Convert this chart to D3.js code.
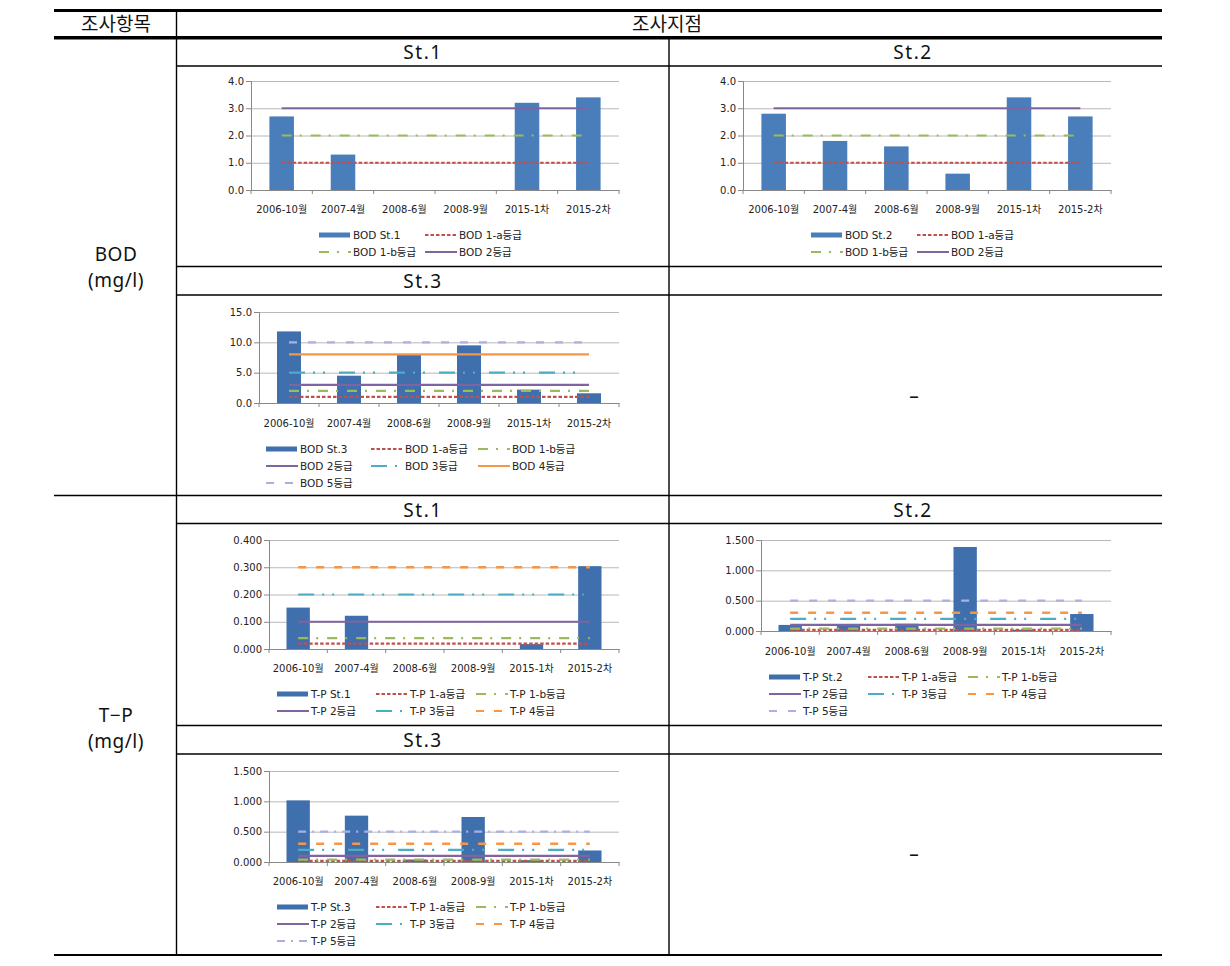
<!DOCTYPE html>
<html><head><meta charset="utf-8">
<script src="https://cdn.jsdelivr.net/npm/d3@7"></script>
<style>body{margin:0;background:#fff}svg{display:block}</style>
</head><body>
<svg id="c" width="1230" height="966"></svg>
<script>
// ---------- DATA ----------
const categories = ["2006-10월","2007-4월","2008-6월","2008-9월","2015-1차","2015-2차"];
const bodSt1 = [2.7, 1.3, 0, 0, 3.2, 3.4];
const bodSt2 = [2.8, 1.8, 1.6, 0.6, 3.4, 2.7];
const bodSt3 = [11.8, 4.5, 8.0, 9.5, 2.2, 1.6];
const tpSt1 = [0.152, 0.122, 0, 0, 0.018, 0.304];
const tpSt2 = [0.10, 0.11, 0.12, 1.385, 0.02, 0.28];
const tpSt3 = [1.016, 0.764, 0.04, 0.742, 0.03, 0.19];
const gradeNames = ["1-a등급","1-b등급","2등급","3등급","4등급","5등급"];
const bodGradeValues = [1, 2, 3, 5, 8, 10];
const tpGradeValues = [0.02, 0.04, 0.1, 0.2, 0.3, 0.5];
const bodTicksSmall = [0, 1, 2, 3, 4];
const bodTicksLarge = [0, 5, 10, 15];
const tpTicksSmall = [0, 0.1, 0.2, 0.3, 0.4];
const tpTicksLarge = [0, 0.5, 1.0, 1.5];

// ---------- STYLES ----------
const BIG = "'Noto Sans','Noto Sans CJK KR',sans-serif";
const SMALL = "'DejaVu Sans','Noto Sans CJK KR',sans-serif";
const baseStyles = [
  {color:"#C0504D", dash:"3.5,2", w:2.2},
  {color:"#9BBB59", dash:"10,8,2,9", w:2.2},
  {color:"#8064A2", dash:null, w:2.2},
  {color:"#4BACC6", dash:"16,8,2,8,2,14", w:2.2},
  {color:"#F79646", dash:null, w:2.2},
  {color:"#AAB0E6", dash:"8,11", w:2.2}
];
function gradeStyle(i, variant){
  const s = Object.assign({}, baseStyles[i]);
  if((variant==="tp" || variant==="tp3") && i===4){ s.dash="8,10"; s.w=2.5; }
  if(variant==="tp3" && i===5){ s.dash="8,6,2,6"; }
  return s;
}

const svg = d3.select("#c");

// ---------- TABLE ----------
const T = svg.append("g");
const hl = [[54,1162,10.5,3],[54,1162,37.8,3.5],[176,1162,66,1.4],[176,1162,266.5,1.4],[176,1162,295,1.4],
  [54,1162,495.5,1.4],[176,1162,523.5,1.4],[176,1162,725.5,1.4],[176,1162,754,1.4],[54,1162,955,2]];
hl.forEach(d=>T.append("line").attr("x1",d[0]).attr("x2",d[1]).attr("y1",d[2]).attr("y2",d[2]).attr("stroke","#000").attr("stroke-width",d[3]));
[[176.5,10,955],[669,39,955]].forEach(d=>T.append("line").attr("x1",d[0]).attr("x2",d[0]).attr("y1",d[1]).attr("y2",d[2]).attr("stroke","#000").attr("stroke-width",1.4));
const texts = [
  ["조사항목",116,24,19,0],["조사지점",667,24,19,0],
  ["St.1",423,52,19,1.5],["St.2",913,52,19,1.5],["St.3",423,281,19,1.5],
  ["St.1",423,510,19,1.5],["St.2",913,510,19,1.5],["St.3",423,740,19,1.5],
  ["BOD",116,254,19,0.5],["(mg/l)",116,280,19,0.5],["T−P",116,715,19,0.5],["(mg/l)",116,741,19,0.5],
  ["–",914,396,19,0],["–",914,854,19,0]
];
texts.forEach(t=>T.append("text").text(t[0]).attr("x",t[1]).attr("y",t[2]).attr("text-anchor","middle")
  .attr("dominant-baseline","central").attr("font-family",BIG).attr("font-size",t[3]).attr("letter-spacing",t[4]).attr("fill","#111"));

// ---------- CHARTS ----------
function drawChart(cfg){
  const g = svg.append("g");
  const x = d3.scaleBand().domain(categories).range([cfg.left,cfg.right]).padding(0);
  const y = d3.scaleLinear().domain([0, d3.max(cfg.ticks)]).range([cfg.bottom,cfg.top]);
  const bw = x.bandwidth();
  // gridlines
  g.append("g").attr("transform",`translate(${cfg.left},0)`)
    .call(d3.axisLeft(y).tickValues(cfg.ticks).tickSize(-(cfg.right-cfg.left)).tickFormat(""))
    .call(s=>{s.select(".domain").remove(); s.selectAll("line").attr("stroke","#b8b8b8");});
  // y axis
  g.append("g").attr("transform",`translate(${cfg.left},0)`)
    .call(d3.axisLeft(y).tickValues(cfg.ticks).tickSize(5).tickPadding(2).tickFormat(d3.format(cfg.fmt)))
    .call(s=>{s.select(".domain").attr("stroke","#888"); s.selectAll("line").attr("stroke","#888");
      s.selectAll("text").attr("font-family",SMALL).attr("font-size",10).attr("fill","#222");});
  // x axis
  g.append("g").attr("transform",`translate(0,${cfg.bottom})`)
    .call(d3.axisBottom(x).tickSize(0).tickPadding(cfg.labelY-cfg.bottom-3.5))
    .call(s=>{s.select(".domain").attr("stroke","#888");
      s.selectAll("text").attr("font-family",SMALL).attr("font-size",10).attr("fill","#222");});
  const bounds = categories.map(c=>x(c)).concat([cfg.right]);
  g.append("g").selectAll("line").data(bounds).join("line")
    .attr("x1",d=>d).attr("x2",d=>d).attr("y1",cfg.bottom).attr("y2",cfg.bottom+4).attr("stroke","#888");
  // bars
  g.append("g").selectAll("rect").data(cfg.values).join("rect")
    .attr("x",(d,i)=>x(categories[i])+bw*0.3).attr("width",bw*0.4)
    .attr("y",d=>y(d)).attr("height",d=>cfg.bottom-y(d)).attr("fill",cfg.barColor);
  // grade lines
  const line = d3.line().x(d=>x(d.c)+bw/2).y(d=>y(d.v));
  cfg.grades.forEach(i=>{
    const st = gradeStyle(i,cfg.variant);
    g.append("path").datum(categories.map(c=>({c,v:cfg.gradeValues[i]})))
      .attr("d",line).attr("fill","none").attr("stroke",st.color).attr("stroke-width",st.w)
      .attr("stroke-dasharray",st.dash);
  });
  // legend
  const items = [{type:"bar",name:cfg.barName}].concat(cfg.grades.map(i=>({type:"line",i,name:cfg.prefix+" "+gradeNames[i]})));
  items.forEach((it,k)=>{
    const cx = cfg.legCols[k % cfg.legCols.length];
    const cy = cfg.legRows[Math.floor(k / cfg.legCols.length)];
    if(it.type==="bar"){
      g.append("rect").attr("x",cx).attr("y",cy-2.5).attr("width",31).attr("height",5).attr("fill",cfg.barColor);
    } else {
      const st = gradeStyle(it.i,cfg.variant);
      g.append("line").attr("x1",cx).attr("x2",cx+32).attr("y1",cy).attr("y2",cy)
        .attr("stroke",st.color).attr("stroke-width",Math.min(st.w,2)).attr("stroke-dasharray",st.dash);
    }
    g.append("text").text(it.name).attr("x",cx+34).attr("y",cy).attr("dy","0.35em")
      .attr("font-family",SMALL).attr("font-size",10.5).attr("fill","#222");
  });
}

drawChart({values:bodSt1, barName:"BOD St.1", prefix:"BOD", gradeValues:bodGradeValues, grades:[0,1,2], variant:"bod",
  left:251, right:619, top:81, bottom:190, ticks:bodTicksSmall, fmt:".1f", labelY:209,
  legCols:[319,425], legRows:[235,252], barColor:"#4A7EBB"});
drawChart({values:bodSt2, barName:"BOD St.2", prefix:"BOD", gradeValues:bodGradeValues, grades:[0,1,2], variant:"bod",
  left:743, right:1111, top:81, bottom:190, ticks:bodTicksSmall, fmt:".1f", labelY:209,
  legCols:[811,917], legRows:[235,252], barColor:"#4A7EBB"});
drawChart({values:bodSt3, barName:"BOD St.3", prefix:"BOD", gradeValues:bodGradeValues, grades:[0,1,2,3,4,5], variant:"bod",
  left:259, right:619, top:312, bottom:403, ticks:bodTicksLarge, fmt:".1f", labelY:423,
  legCols:[266,371,478], legRows:[449,466,483], barColor:"#3F6FAD"});
drawChart({values:tpSt1, barName:"T-P St.1", prefix:"T-P", gradeValues:tpGradeValues, grades:[0,1,2,3,4], variant:"tp",
  left:269, right:619, top:540, bottom:649, ticks:tpTicksSmall, fmt:".3f", labelY:668,
  legCols:[277,376,476], legRows:[694,711], barColor:"#3F6FAD"});
drawChart({values:tpSt2, barName:"T-P St.2", prefix:"T-P", gradeValues:tpGradeValues, grades:[0,1,2,3,4,5], variant:"tp",
  left:761, right:1111, top:540, bottom:631, ticks:tpTicksLarge, fmt:".3f", labelY:651,
  legCols:[769,868,968], legRows:[677,694,711], barColor:"#3F6FAD"});
drawChart({values:tpSt3, barName:"T-P St.3", prefix:"T-P", gradeValues:tpGradeValues, grades:[0,1,2,3,4,5], variant:"tp3",
  left:269, right:619, top:771, bottom:862, ticks:tpTicksLarge, fmt:".3f", labelY:881,
  legCols:[277,376,476], legRows:[907,924,941], barColor:"#3F6FAD"});
</script>
</body></html>
